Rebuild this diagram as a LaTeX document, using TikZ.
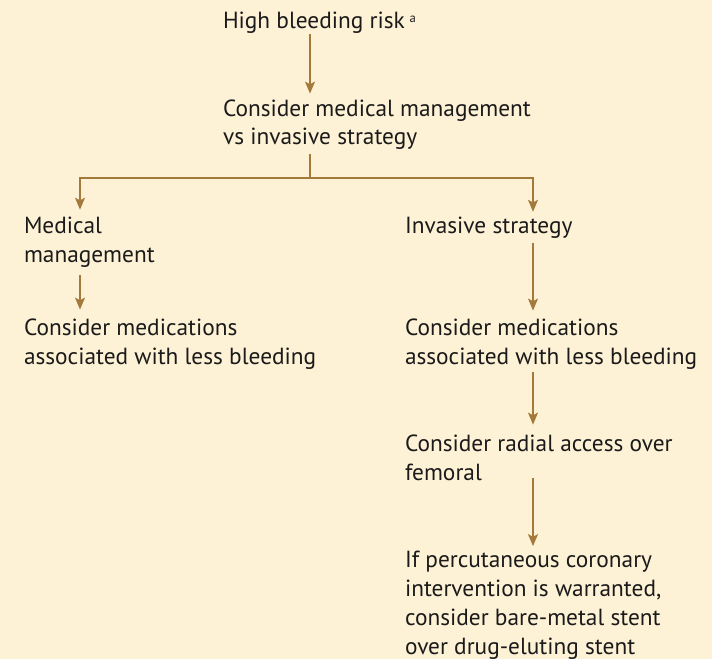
\documentclass[tikz,border=0pt]{standalone}
\usepackage{fontspec}
\setmainfont{PT Sans}
\usetikzlibrary{arrows.meta}
\definecolor{bg}{HTML}{FEF2D6}
\definecolor{arrc}{HTML}{A47A3C}
\definecolor{txt}{HTML}{1A1A1A}
\tikzset{
  lbl/.style={anchor=base west, inner sep=0pt, outer sep=0pt, align=left, text=txt,
    font=\fontsize{17.5pt}{21.6pt}\selectfont},
  ln/.style={draw=arrc, line width=1.1pt},
  arr/.style={ln, -{Stealth[length=9pt, width=7.5pt, inset=2pt]}}
}
\begin{document}
\begin{tikzpicture}[x=0.75pt, y=-0.75pt]
\fill[bg] (0,0) rectangle (712,659);
\useasboundingbox (0,0) rectangle (712,659);

% base anchor = baseline of the last line
\node[lbl] (risk) at (223,29) {High bleeding risk\hspace{3.5pt}\raisebox{5.2pt}{\fontsize{9.5pt}{10pt}\selectfont a}};
\node[lbl] (cmm) at (223,145) {Consider medical management\\vs invasive strategy};
\node[lbl] (med) at (24,262) {Medical\\management};
\node[lbl] (inv) at (405,233) {Invasive strategy};
\node[lbl] (medsL) at (24,364) {Consider medications\\associated with less bleeding};
\node[lbl] (medsR) at (405,364) {Consider medications\\associated with less bleeding};
\node[lbl] (radial) at (405,480) {Consider radial access over\\femoral};
\node[lbl] (pci) at (405,654) {If percutaneous coronary\\intervention is warranted,\\consider bare-metal stent\\over drug-eluting stent};

\coordinate (split) at (310,178);
\coordinate (lx) at (80,178);
\coordinate (rx) at (533,178);

\draw[arr, shorten >=4.5pt] (risk.south -| split) -- (cmm.north -| split);
\draw[ln, shorten <=2.7pt] (cmm.south -| split) -- (split);
\draw[arr, shorten >=5.25pt] (split) -- (lx) -- (med.north -| lx);
\draw[arr, shorten >=3.5pt] (split) -- (rx) -- (inv.north -| rx);
\draw[arr, shorten <=5.7pt, shorten >=6.75pt] (med.south -| lx) -- (medsL.north -| lx);
\draw[arr, shorten <=3.5pt, shorten >=6pt] (inv.south -| rx) -- (medsR.north -| rx);
\draw[arr, shorten <=2pt, shorten >=7.5pt] (medsR.south -| rx) -- (radial.north -| rx);
\draw[arr, shorten <=-1.5pt, shorten >=3.75pt] (radial.south -| rx) -- (pci.north -| rx);
\end{tikzpicture}
\end{document}
